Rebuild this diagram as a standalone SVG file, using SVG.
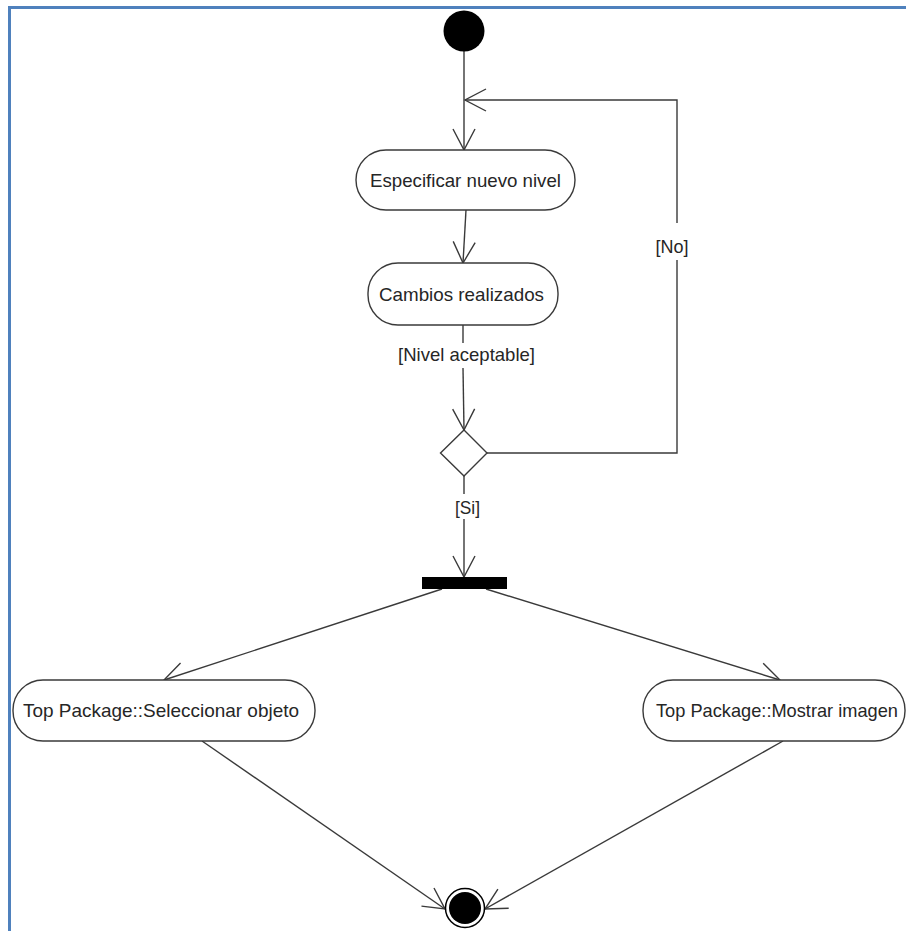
<svg xmlns="http://www.w3.org/2000/svg" width="906" height="931" viewBox="0 0 906 931">
  <defs>
    <style>
      .frame { fill: none; stroke: #4F81BD; stroke-width: 3; }
      .node { fill: #ffffff; stroke: #3a3a3a; stroke-width: 1.4; }
      .edge { fill: none; stroke: #3a3a3a; stroke-width: 1.4; }
      .lbl { font-family: "Liberation Sans", Arial, sans-serif; font-size: 18.5px; fill: #262626; text-anchor: middle; }
    </style>
    <marker id="open" markerUnits="userSpaceOnUse" markerWidth="30" markerHeight="30" viewBox="-25 -15 30 30" refX="0" refY="0" orient="auto">
      <path d="M -21 -11 L 0 0 L -21 11" fill="none" stroke="#3a3a3a" stroke-width="1.4"/>
    </marker>
  </defs>
  <rect width="906" height="931" fill="#ffffff"/>

  <!-- page frame -->
  <path class="frame" d="M 9.5 931 L 9.5 7.5 L 906 7.5"/>

  <!-- connectors -->
  <g id="connectors">
    <path class="edge" d="M 464 51 L 464 150" marker-end="url(#open)"/>
    <path class="edge" d="M 487 453 L 677 453 L 677 260"/>
    <path class="edge" d="M 677 223 L 677 100 L 465 100" marker-end="url(#open)"/>
    <path class="edge" d="M 466 210 L 463 263" marker-end="url(#open)"/>
    <path class="edge" d="M 463 325 L 463 343"/>
    <path class="edge" d="M 463 368 L 464 430" marker-end="url(#open)"/>
    <path class="edge" d="M 464 476 L 464 494"/>
    <path class="edge" d="M 464 519 L 464 577" marker-end="url(#open)"/>
    <path class="edge" d="M 442 589 L 164 680" marker-end="url(#open)"/>
    <path class="edge" d="M 486 589 L 780 680" marker-end="url(#open)"/>
    <path class="edge" d="M 202 741 L 445 909" marker-end="url(#open)"/>
    <path class="edge" d="M 783 741 L 485 909" marker-end="url(#open)"/>
    <text class="lbl" x="466.5" y="361" textLength="137" lengthAdjust="spacingAndGlyphs">[Nivel aceptable]</text>
    <text class="lbl" x="672" y="253" textLength="33" lengthAdjust="spacingAndGlyphs">[No]</text>
    <text class="lbl" x="467.5" y="514" textLength="25" lengthAdjust="spacingAndGlyphs">[Si]</text>
  </g>

  <g id="start">
    <circle cx="464" cy="31" r="20.5" fill="#000000"/>
  </g>

  <g id="especificar">
    <rect class="node" x="356" y="150" width="219" height="60" rx="30" ry="30"/>
    <text class="lbl" x="465.5" y="187" textLength="191" lengthAdjust="spacingAndGlyphs">Especificar nuevo nivel</text>
  </g>

  <g id="cambios">
    <rect class="node" x="368" y="263" width="190" height="62" rx="30" ry="30"/>
    <text class="lbl" x="461.5" y="301" textLength="165" lengthAdjust="spacingAndGlyphs">Cambios realizados</text>
  </g>

  <g id="decision">
    <polygon class="node" points="464,430 487,453 464,476 440.5,453"/>
  </g>

  <g id="fork">
    <rect x="422" y="577" width="85" height="12" fill="#000000"/>
  </g>

  <g id="seleccionar">
    <rect class="node" x="13" y="680" width="302" height="61" rx="30" ry="30"/>
    <text class="lbl" x="161" y="717" textLength="276" lengthAdjust="spacingAndGlyphs">Top Package::Seleccionar objeto</text>
  </g>

  <g id="mostrar">
    <rect class="node" x="643" y="680" width="262" height="61" rx="30" ry="30"/>
    <text class="lbl" x="777" y="717" textLength="242" lengthAdjust="spacingAndGlyphs">Top Package::Mostrar imagen</text>
  </g>

  <g id="final">
    <circle cx="465" cy="908" r="19.5" fill="#ffffff" stroke="#000000" stroke-width="1.5"/>
    <circle cx="465" cy="908" r="16" fill="#000000"/>
  </g>
</svg>
